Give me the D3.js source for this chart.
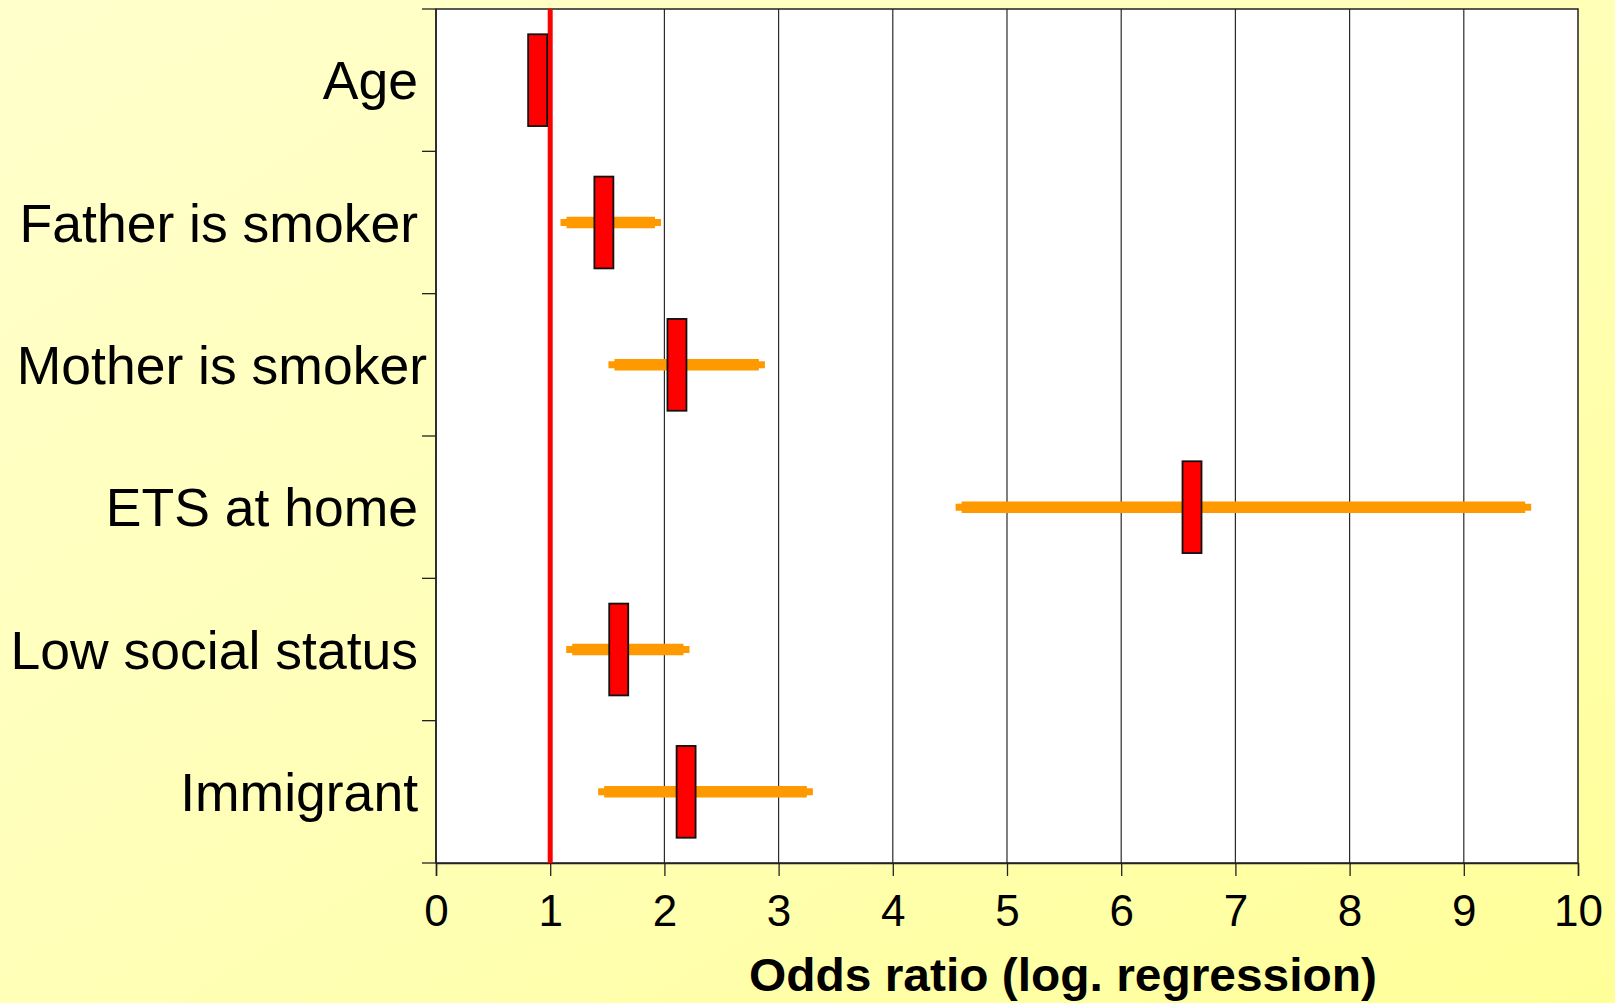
<!DOCTYPE html>
<html>
<head>
<meta charset="utf-8">
<script src="https://cdn.jsdelivr.net/npm/d3@7"></script>
<style>
  html, body { margin: 0; padding: 0; overflow: hidden; }
  svg { display: block; }
  text { font-family: "Liberation Sans", Arial, sans-serif; }
</style>
</head>
<body>
<script>
const categories = ["Age", "Father is smoker", "Mother is smoker", "ETS at home", "Low social status", "Immigrant"];
const oddsRatio = [0.89, 1.47, 2.11, 6.62, 1.60, 2.19];
const ciLow  = [null, 1.09, 1.51, 4.55, 1.14, 1.42];
const ciHigh = [null, 1.97, 2.88, 9.59, 2.22, 3.30];
const xTicks = [0, 1, 2, 3, 4, 5, 6, 7, 8, 9, 10];
const refValue = 1;
const xTitle = "Odds ratio (log. regression)";

const W = 1615, H = 1003;
const m = { left: 436, right: 1578, top: 9, bottom: 863 };

const svg = d3.select("body").append("svg").attr("width", W).attr("height", H);
const defs = svg.append("defs");
const grad = defs.append("linearGradient").attr("id", "bg")
  .attr("x1", "0").attr("y1", "0").attr("x2", "1").attr("y2", "1");
grad.append("stop").attr("offset", "0").attr("stop-color", "#ffffcc");
grad.append("stop").attr("offset", "0.5").attr("stop-color", "#ffffb8");
grad.append("stop").attr("offset", "1").attr("stop-color", "#ffff99");
svg.append("rect").attr("width", W).attr("height", H).attr("fill", "url(#bg)");

const x = d3.scaleLinear().domain([0, 10]).range([m.left, m.right]);
const y = d3.scaleBand().domain(categories).range([m.top, m.bottom]);

// plot area
svg.append("rect").attr("x", m.left).attr("y", m.top)
  .attr("width", m.right - m.left).attr("height", m.bottom - m.top)
  .attr("fill", "#ffffff");

// gridlines
svg.append("g").selectAll("line").data(xTicks.filter(d => d > 0 && d < 10)).join("line")
  .attr("x1", d => x(d)).attr("x2", d => x(d))
  .attr("y1", m.top).attr("y2", m.bottom)
  .attr("stroke", "#2a2a2a").attr("stroke-width", 1.2);

// border
svg.append("rect").attr("x", m.left).attr("y", m.top)
  .attr("width", m.right - m.left).attr("height", m.bottom - m.top)
  .attr("fill", "none").attr("stroke", "#222").attr("stroke-width", 1.5);

// x axis
const xAxis = d3.axisBottom(x).tickValues(xTicks).tickSize(13).tickPadding(19).tickFormat(d3.format("d"));
const gx = svg.append("g").attr("transform", `translate(0,${m.bottom})`).call(xAxis);
gx.select(".domain").attr("stroke", "#222").attr("stroke-width", 1.5);
gx.selectAll(".tick line").attr("stroke", "#222").attr("stroke-width", 1.3);
gx.selectAll(".tick text").attr("font-size", 44).attr("fill", "#000")
  .style("font-family", "'Liberation Sans', Arial, sans-serif");

// y axis: ticks at band boundaries
const bounds = categories.map(c => y(c)).concat([m.bottom]);
const gy = svg.append("g");
gy.append("line").attr("x1", m.left).attr("x2", m.left).attr("y1", m.top).attr("y2", m.bottom)
  .attr("stroke", "#222").attr("stroke-width", 1.5);
gy.selectAll("line.t").data(bounds).join("line").attr("class", "t")
  .attr("x1", m.left - 14).attr("x2", m.left).attr("y1", d => d).attr("y2", d => d)
  .attr("stroke", "#222").attr("stroke-width", 1.3);
gy.selectAll("text").data(categories).join("text")
  .attr("x", (d, i) => i === 2 ? 427 : 418).attr("y", d => y(d) + y.bandwidth() / 2)
  .attr("dy", "0.36em").attr("text-anchor", "end")
  .attr("font-size", 53.5).attr("fill", "#000").text(d => d);

// reference line
svg.append("line").attr("x1", x(refValue)).attr("x2", x(refValue))
  .attr("y1", m.top).attr("y2", m.bottom)
  .attr("stroke", "#ff0000").attr("stroke-width", 5);

// error bars
const rows = categories.map((c, i) => ({ c, or: oddsRatio[i], lo: ciLow[i], hi: ciHigh[i] }));
const eb = svg.append("g");
rows.filter(r => r.lo != null).forEach(r => {
  const cy = y(r.c) + y.bandwidth() / 2;
  eb.append("line").attr("x1", x(r.lo)).attr("x2", x(r.hi)).attr("y1", cy).attr("y2", cy)
    .attr("stroke", "#ff9900").attr("stroke-width", 7);
  eb.append("line").attr("x1", x(r.lo) + 6).attr("x2", x(r.hi) - 6).attr("y1", cy).attr("y2", cy)
    .attr("stroke", "#ff9900").attr("stroke-width", 11.5);
});

// point boxes
const boxW = 19, boxH = y.bandwidth() * 0.645;
svg.append("g").selectAll("rect").data(rows).join("rect")
  .attr("x", r => x(r.or) - boxW / 2)
  .attr("y", r => y(r.c) + y.bandwidth() / 2 - boxH / 2)
  .attr("width", boxW).attr("height", boxH)
  .attr("fill", "#ff0000").attr("stroke", "#111").attr("stroke-width", 1.8);

// axis title
svg.append("text").attr("x", 1063).attr("y", 991).attr("text-anchor", "middle")
  .attr("font-size", 46).attr("font-weight", "bold").attr("fill", "#000")
  .attr("textLength", 628).attr("lengthAdjust", "spacingAndGlyphs")
  .text(xTitle);
</script>
</body>
</html>
